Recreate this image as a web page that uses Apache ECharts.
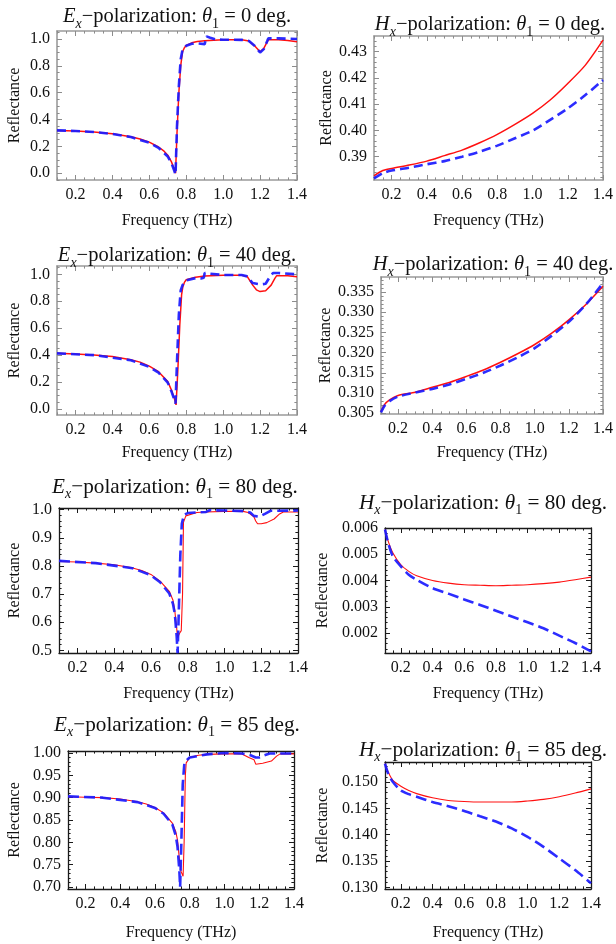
<!DOCTYPE html>
<html>
<head>
<meta charset="utf-8">
<script src="https://cdn.jsdelivr.net/npm/echarts@6/dist/echarts.min.js"></script>
<style>
html,body{margin:0;padding:0;background:#fff}
#chart{width:616px;height:944px}
</style>
</head>
<body>
<div id="chart"></div>
<script>
// ---------- tick labels ----------
const freqTicks = [0.2, 0.4, 0.6, 0.8, 1.0, 1.2, 1.4];
const ticksEx0 = [0.0, 0.2, 0.4, 0.6, 0.8, 1.0];
const ticksHx0 = [0.39, 0.40, 0.41, 0.42, 0.43];
const ticksEx40 = [0.0, 0.2, 0.4, 0.6, 0.8, 1.0];
const ticksHx40 = [0.305, 0.310, 0.315, 0.320, 0.325, 0.330, 0.335];
const ticksEx80 = [0.5, 0.6, 0.7, 0.8, 0.9, 1.0];
const ticksHx80 = [0.002, 0.003, 0.004, 0.005, 0.006];
const ticksEx85 = [0.70, 0.75, 0.80, 0.85, 0.90, 0.95, 1.00];
const ticksHx85 = [0.130, 0.135, 0.140, 0.145, 0.150];

// ---------- E_x polarization, theta = 0 ----------
const fEx0Red = [0.1,0.2,0.3,0.4,0.5,0.55,0.6,0.65,0.68,0.7,0.72,0.735,0.742,0.75,0.76,0.77,0.78,0.79,0.8,0.83,0.86,0.9,0.95,1.0,1.1,1.14,1.17,1.2,1.22,1.245,1.3,1.35,1.4];
const rEx0Red = [0.318,0.315,0.308,0.295,0.272,0.256,0.232,0.196,0.165,0.135,0.085,0.03,0.0,0.3,0.6,0.8,0.905,0.935,0.952,0.972,0.982,0.988,0.992,0.994,0.994,0.985,0.95,0.905,0.93,0.995,0.995,0.99,0.98];
const fEx0Blue = [0.1,0.2,0.3,0.4,0.5,0.6,0.65,0.7,0.72,0.735,0.742,0.75,0.76,0.77,0.78,0.8,0.83,0.86,0.9,0.905,0.91,0.93,0.96,1.0,1.1,1.14,1.17,1.2,1.22,1.24,1.245,1.3,1.4];
const rEx0Blue = [0.32,0.315,0.308,0.293,0.27,0.228,0.19,0.125,0.075,0.02,-0.01,0.35,0.65,0.85,0.92,0.95,0.965,0.968,0.962,0.965,1.02,1.01,0.997,0.995,0.994,0.985,0.95,0.9,0.925,0.99,1.005,1.005,1.0];

// ---------- H_x polarization, theta = 0 ----------
const fHx0 = [0.1,0.15,0.2,0.3,0.4,0.5,0.6,0.7,0.8,0.9,1.0,1.1,1.2,1.3,1.4];
const rHx0Red = [0.3827,0.3847,0.3855,0.3868,0.3883,0.3904,0.3925,0.3953,0.3985,0.4023,0.4065,0.4116,0.4179,0.4249,0.4344];
const rHx0Blue = [0.3817,0.3837,0.3847,0.3858,0.3871,0.3883,0.3900,0.3919,0.3942,0.3970,0.3999,0.4040,0.4084,0.4135,0.4192];

// ---------- E_x polarization, theta = 40 ----------
const fEx40Red = [0.1,0.2,0.3,0.4,0.5,0.55,0.6,0.65,0.7,0.72,0.735,0.745,0.755,0.765,0.775,0.782,0.79,0.8,0.85,0.9,1.0,1.1,1.13,1.16,1.18,1.2,1.23,1.26,1.28,1.29,1.35,1.4];
const rEx40Red = [0.413,0.408,0.40,0.39,0.366,0.348,0.318,0.277,0.203,0.14,0.08,0.03,0.3,0.62,0.85,0.91,0.94,0.96,0.978,0.988,0.993,0.993,0.985,0.92,0.885,0.872,0.878,0.92,0.97,0.99,0.99,0.983];
const fEx40Blue = [0.1,0.3,0.5,0.6,0.65,0.7,0.72,0.735,0.742,0.75,0.76,0.77,0.78,0.8,0.85,0.88,0.895,0.9,0.93,1.0,1.1,1.13,1.16,1.2,1.23,1.25,1.27,1.3,1.4];
const rEx40Blue = [0.413,0.40,0.362,0.312,0.27,0.195,0.13,0.07,0.04,0.35,0.7,0.88,0.92,0.955,0.972,0.97,0.975,1.01,1.005,0.995,0.995,0.985,0.935,0.925,0.93,0.975,1.01,1.01,1.0];

// ---------- H_x polarization, theta = 40 ----------
const fHx40 = [0.1,0.12,0.15,0.2,0.3,0.4,0.5,0.6,0.7,0.8,0.9,1.0,1.1,1.2,1.3,1.4];
const rHx40Red = [0.3054,0.3071,0.3083,0.3094,0.3102,0.3114,0.3126,0.3141,0.3157,0.3176,0.3197,0.3220,0.3248,0.3281,0.3319,0.3364];
const rHx40Blue = [0.3052,0.3068,0.3080,0.3091,0.3101,0.3110,0.3121,0.3135,0.3150,0.3168,0.3188,0.3211,0.3242,0.3276,0.3319,0.3372];

// ---------- E_x polarization, theta = 80 ----------
const fEx80Red = [0.1,0.2,0.3,0.4,0.5,0.55,0.6,0.65,0.7,0.72,0.73,0.74,0.745,0.755,0.765,0.772,0.777,0.79,0.8,0.85,0.9,1.0,1.1,1.13,1.16,1.17,1.18,1.2,1.23,1.27,1.3,1.32,1.4];
const rEx80Red = [0.816,0.814,0.81,0.804,0.793,0.784,0.77,0.746,0.71,0.678,0.64,0.58,0.545,0.56,0.57,0.7,0.955,0.978,0.985,0.99,0.992,0.994,0.994,0.99,0.975,0.96,0.95,0.95,0.954,0.967,0.985,0.992,0.992];
const fEx80Blue = [0.1,0.3,0.5,0.6,0.65,0.7,0.72,0.73,0.74,0.745,0.75,0.755,0.76,0.768,0.78,0.8,0.9,0.92,1.0,1.1,1.14,1.16,1.19,1.22,1.25,1.4];
const rEx80Blue = [0.818,0.81,0.792,0.767,0.742,0.702,0.665,0.63,0.55,0.49,0.6,0.72,0.84,0.95,0.982,0.988,0.992,0.998,0.997,0.995,0.99,0.978,0.975,0.985,0.996,0.997];

// ---------- H_x polarization, theta = 80 ----------
const fHx80 = [0.1,0.12,0.15,0.2,0.25,0.3,0.4,0.5,0.6,0.7,0.8,0.9,1.0,1.1,1.2,1.3,1.4];
const rHx80Red = [0.00594,0.0055,0.00505,0.0046,0.00435,0.00418,0.0040,0.0039,0.00384,0.00382,0.0038,0.00382,0.00384,0.00388,0.00394,0.00403,0.00413];
const rHx80Blue = [0.00594,0.00543,0.00492,0.00454,0.00422,0.00403,0.00371,0.0035,0.00328,0.00307,0.00285,0.00263,0.00241,0.00218,0.0019,0.00162,0.0013];

// ---------- E_x polarization, theta = 85 ----------
const fEx85Red = [0.1,0.2,0.3,0.4,0.5,0.55,0.6,0.65,0.7,0.72,0.73,0.74,0.75,0.762,0.768,0.775,0.78,0.8,0.85,0.9,1.0,1.1,1.14,1.17,1.18,1.22,1.27,1.3,1.32,1.4];
const rEx85Red = [0.902,0.901,0.9,0.897,0.891,0.886,0.878,0.866,0.843,0.824,0.805,0.765,0.735,0.724,0.8,0.95,0.978,0.99,0.995,0.997,0.998,0.998,0.99,0.985,0.975,0.977,0.982,0.993,0.998,0.998];
const fEx85Blue = [0.1,0.3,0.5,0.6,0.65,0.7,0.72,0.73,0.74,0.745,0.752,0.76,0.77,0.8,0.9,1.0,1.1,1.15,1.18,1.2,1.23,1.26,1.4];
const rEx85Blue = [0.903,0.9,0.89,0.877,0.864,0.84,0.815,0.79,0.74,0.7,0.8,0.93,0.98,0.99,0.997,1.0,0.999,0.995,0.99,0.99,0.995,0.999,0.999];

// ---------- H_x polarization, theta = 85 ----------
const fHx85 = [0.1,0.12,0.15,0.2,0.25,0.3,0.4,0.5,0.6,0.7,0.8,0.9,1.0,1.1,1.2,1.3,1.4];
const rHx85Red = [0.1535,0.1519,0.1503,0.1492,0.1484,0.1478,0.1470,0.1465,0.1463,0.1462,0.1462,0.1462,0.1464,0.1467,0.1472,0.1479,0.1487];
const rHx85Blue = [0.1535,0.1516,0.1500,0.1484,0.1477,0.1472,0.1462,0.1454,0.1445,0.1435,0.1425,0.1412,0.1396,0.1377,0.1355,0.1333,0.1308];

// ---------- panel layout ----------
const SERIF = '"Liberation Serif", "Times New Roman", serif';
const zip = (xs, ys) => xs.map((x, i) => [x, ys[i]]);

const panels = [
  { pol: 'E', angle: 0,  grid: [57, 31, 240, 149],  y: [-0.05, 1.06],   yTicks: ticksEx0,  yDec: 1, yMinor: 3, red: zip(fEx0Red, rEx0Red),   blue: zip(fEx0Blue, rEx0Blue),   title: [177, 17],  tfs: 20.5, xGap: 33, yGap: 34, dark: false, smooth: false },
  { pol: 'H', angle: 0,  grid: [374, 36, 231, 144], y: [0.3811, 0.436], yTicks: ticksHx0,  yDec: 2, yMinor: 4, red: zip(fHx0, rHx0Red),        blue: zip(fHx0, rHx0Blue),       title: [490, 25],  tfs: 20.5, xGap: 33, yGap: 28, dark: false, smooth: true },
  { pol: 'E', angle: 40, grid: [57, 266, 240, 149], y: [-0.045, 1.062], yTicks: ticksEx40, yDec: 1, yMinor: 3, red: zip(fEx40Red, rEx40Red), blue: zip(fEx40Blue, rEx40Blue), title: [177, 256], tfs: 20.5, xGap: 30, yGap: 34, dark: false, smooth: false },
  { pol: 'H', angle: 40, grid: [381, 277, 224, 137], y: [0.3048, 0.3387], yTicks: ticksHx40, yDec: 3, yMinor: 4, red: zip(fHx40, rHx40Red),      blue: zip(fHx40, rHx40Blue),     title: [493, 265], tfs: 20.5, xGap: 31, yGap: 35, dark: false, smooth: true },
  { pol: 'E', angle: 80, grid: [59, 508, 239, 145], y: [0.4905, 1.006], yTicks: ticksEx80, yDec: 1, yMinor: 4, red: zip(fEx80Red, rEx80Red), blue: zip(fEx80Blue, rEx80Blue), title: [175, 487], tfs: 21.2, xGap: 33, yGap: 36, dark: true, smooth: false },
  { pol: 'H', angle: 80, grid: [385, 528, 206, 125], y: [0.00124, 0.006], yTicks: ticksHx80, yDec: 3, yMinor: 4, red: zip(fHx80, rHx80Red),      blue: zip(fHx80, rHx80Blue),     title: [483, 503], tfs: 21.2, xGap: 33, yGap: 54, dark: true, smooth: true },
  { pol: 'E', angle: 85, grid: [68, 751, 226, 138], y: [0.6955, 1.0045], yTicks: ticksEx85, yDec: 2, yMinor: 4, red: zip(fEx85Red, rEx85Red), blue: zip(fEx85Blue, rEx85Blue), title: [177, 725], tfs: 21.2, xGap: 36, yGap: 45, dark: true, smooth: false },
  { pol: 'H', angle: 85, grid: [385, 762, 206, 127], y: [0.1297, 0.1538], yTicks: ticksHx85, yDec: 3, yMinor: 4, red: zip(fHx85, rHx85Red),      blue: zip(fHx85, rHx85Blue),     title: [483, 750], tfs: 21.2, xGap: 36, yGap: 54, dark: true, smooth: true }
];

const X_MIN = 0.1, X_MAX = 1.4;

// minor tick positions between (and beyond) the major ticks, inside [min, max]
function minorTicks(majors, nMinor, min, max) {
  const step = (majors[1] - majors[0]) / (nMinor + 1);
  const out = [];
  const k0 = Math.ceil(min / step - 1e-6), k1 = Math.floor(max / step + 1e-6);
  for (let k = k0; k <= k1; k++) {
    const v = k * step;
    if (majors.some(m => Math.abs(m - v) < step * 1e-3)) continue;
    if (v < min || v > max) continue;
    out.push(+v.toPrecision(10));
  }
  return out;
}

const option = {
  backgroundColor: '#ffffff',
  animation: false,
  title: [], grid: [], xAxis: [], yAxis: [], series: []
};

panels.forEach((p, gi) => {
  const [gl, gt, gw, gh] = p.grid;
  const frame = p.dark ? '#1a1a1a' : '#9b9b9b';
  const tickCol = p.dark ? '#1a1a1a' : '#8c8c8c';
  const lw = p.dark ? 1.3 : 1.6;

  option.grid.push({ left: gl, top: gt, width: gw, height: gh, show: false, containLabel: false });

  const fs = p.tfs;
  const sub = Math.round(fs * 0.68);
  const lh = Math.round(fs * 1.15);
  const lhSub = lh + 5;
  const base = { fontFamily: SERIF, color: '#111', fontWeight: 'normal' };
  option.title.push({
    left: p.title[0], top: p.title[1] - lhSub / 2, textAlign: 'center', padding: 0,
    text: '{i|' + p.pol + '}{sx|x}{n|\u2212polarization: }{i|\u03b8}{s1|1}{n| = ' + p.angle + ' deg.}',
    textStyle: {
      fontWeight: 'normal', fontFamily: SERIF, fontSize: fs, color: '#111',
      rich: {
        n:  Object.assign({ fontSize: fs, lineHeight: lh }, base),
        i:  Object.assign({ fontSize: fs, fontStyle: 'italic', lineHeight: lh }, base),
        sx: Object.assign({ fontSize: sub, fontStyle: 'italic', lineHeight: lhSub, verticalAlign: 'bottom' }, base),
        s1: Object.assign({ fontSize: sub, lineHeight: lhSub, verticalAlign: 'bottom' }, base)
      }
    }
  });

  const xMinor = minorTicks(freqTicks, 3, X_MIN, X_MAX);
  const yMinor = minorTicks(p.yTicks, p.yMinor, p.y[0], p.y[1]);
  const labelStyle = { fontFamily: SERIF, fontSize: 16, color: '#111' };

  const mk = (pos, isMajor, withLabel, extra) => {
    const isX = pos === 'bottom' || pos === 'top';
    const vals = isX ? (isMajor ? freqTicks : xMinor) : (isMajor ? p.yTicks : yMinor);
    const a = {
      type: 'value', gridIndex: gi, position: pos,
      min: isX ? X_MIN : p.y[0], max: isX ? X_MAX : p.y[1],
      axisLine: { show: isMajor, onZero: false, lineStyle: { color: frame, width: lw } },
      axisTick: { show: true, inside: true, length: isMajor ? 5 : 2.6, customValues: vals, lineStyle: { color: tickCol, width: 1 } },
      axisLabel: withLabel
        ? Object.assign({ show: true, customValues: vals, margin: 7, formatter: v => v.toFixed(isX ? 1 : p.yDec) }, labelStyle)
        : { show: false },
      splitLine: { show: false },
      minorTick: { show: false },
      silent: true
    };
    return Object.assign(a, extra || {});
  };

  const xName = { name: 'Frequency (THz)', nameLocation: 'middle', nameGap: p.xGap, nameTextStyle: { fontFamily: SERIF, fontSize: 16, color: '#111' } };
  const yName = { name: 'Reflectance', nameLocation: 'middle', nameGap: p.yGap, nameTextStyle: { fontFamily: SERIF, fontSize: 16, color: '#111' } };

  const xBase = option.xAxis.length;
  option.xAxis.push(mk('bottom', true, true, xName), mk('bottom', false, false), mk('top', true, false), mk('top', false, false));
  const yBase = option.yAxis.length;
  option.yAxis.push(mk('left', true, true, yName), mk('left', false, false), mk('right', true, false), mk('right', false, false));

  option.series.push({
    type: 'line', xAxisIndex: xBase, yAxisIndex: yBase, data: p.red,
    showSymbol: false, smooth: p.smooth ? 0.25 : false, clip: true,
    lineStyle: { color: '#ff1010', width: p.dark ? 1.1 : 1.5 }, z: 3
  });
  option.series.push({
    type: 'line', xAxisIndex: xBase, yAxisIndex: yBase, data: p.blue,
    showSymbol: false, smooth: p.smooth ? 0.25 : false, clip: true,
    lineStyle: { color: '#1a1aff', width: 2.6, type: p.dark ? [11, 5] : [9, 5], opacity: 0.92 }, z: 4
  });
});

const chart = echarts.init(document.getElementById('chart'), null, { renderer: 'canvas' });
chart.setOption(option);
</script>
</body>
</html>
